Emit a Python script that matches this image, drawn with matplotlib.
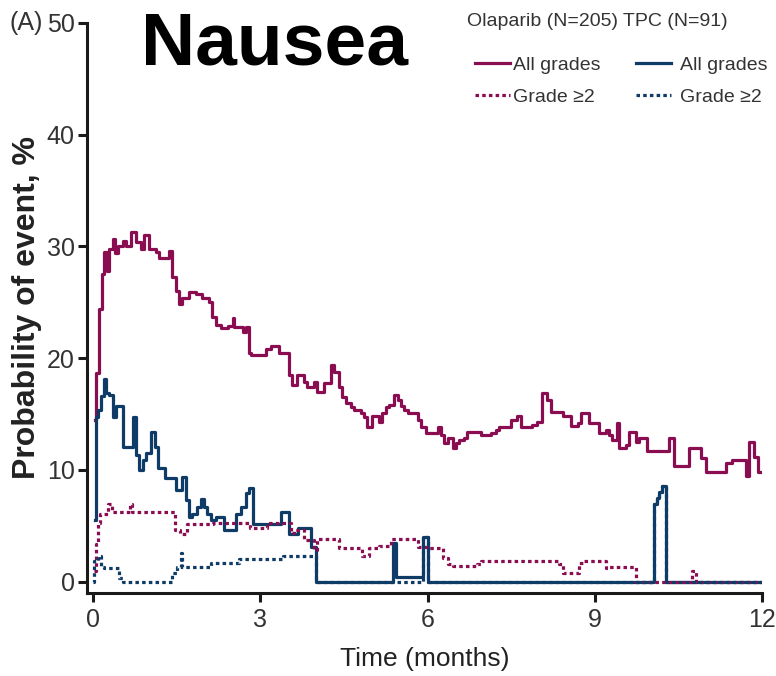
import matplotlib
matplotlib.use('Agg')
import matplotlib.pyplot as plt
from matplotlib.lines import Line2D

# cumulative-incidence style step data, time in months, probability in %
ola_all_t = [0.03, 0.05, 0.095, 0.155, 0.20, 0.25, 0.29, 0.35, 0.39, 0.44, 0.53, 0.59, 0.68, 0.77,
             0.86, 0.91, 1.00, 1.12, 1.18, 1.36, 1.42, 1.48, 1.54, 1.60, 1.72, 1.84, 1.96, 2.08,
             2.14, 2.20, 2.29, 2.41, 2.50, 2.53, 2.68, 2.74, 2.80, 2.83, 3.10, 3.19, 3.34, 3.52,
             3.57, 3.66, 3.78, 3.84, 3.96, 4.02, 4.14, 4.26, 4.32, 4.41, 4.47, 4.53, 4.62, 4.68,
             4.80, 4.86, 4.92, 5.01, 5.13, 5.19, 5.25, 5.31, 5.40, 5.46, 5.52, 5.58, 5.64, 5.82,
             5.88, 5.97, 6.18, 6.24, 6.30, 6.36, 6.45, 6.51, 6.57, 6.65, 6.71, 6.95, 7.13, 7.22,
             7.28, 7.49, 7.61, 7.67, 7.88, 7.97, 8.06, 8.15, 8.21, 8.42, 8.57, 8.69, 8.75, 8.90,
             9.08, 9.20, 9.26, 9.31, 9.39, 9.44, 9.56, 9.61, 9.73, 9.79, 9.94, 10.33, 10.42, 10.69,
             10.90, 10.99, 11.35, 11.47, 11.71, 11.77, 11.86, 11.92, 12.0]
ola_all_p = [14.5, 18.7, 24.4, 27.5, 29.5, 27.8, 29.8, 30.7, 29.4, 30.0, 30.5, 30.0, 31.3, 30.4,
             29.8, 31.0, 29.8, 29.5, 29.0, 29.6, 27.3, 26.0, 24.8, 25.4, 25.9, 25.7, 25.4, 25.0,
             23.7, 23.0, 22.7, 22.9, 23.6, 22.8, 22.3, 22.8, 20.5, 20.3, 20.8, 21.1, 20.5, 18.5,
             17.6, 18.5, 17.9, 17.4, 17.9, 17.0, 17.8, 19.4, 18.8, 17.4, 16.5, 16.0, 15.6, 15.4,
             15.1, 14.7, 13.8, 14.8, 14.3, 15.1, 15.6, 15.8, 16.7, 16.3, 15.7, 15.4, 15.1, 14.5,
             13.8, 13.3, 13.8, 13.1, 12.4, 12.9, 12.0, 12.4, 12.7, 12.9, 13.4, 13.1, 13.3, 13.6,
             13.8, 14.5, 14.8, 13.8, 14.0, 14.3, 16.9, 16.3, 15.2, 14.8, 13.9, 14.2, 15.1, 14.2,
             13.3, 13.6, 13.1, 12.7, 14.2, 12.0, 12.2, 13.4, 12.5, 12.9, 11.7, 12.9, 10.4, 12.0,
             11.1, 9.8, 10.6, 10.9, 9.5, 12.5, 11.2, 9.8, 9.8]

ola_g2_t = [0.02, 0.05, 0.08, 0.12, 0.27, 0.33, 0.66, 0.70, 1.47, 1.56, 1.68, 2.15, 2.82, 3.12,
            3.54, 3.60, 3.78, 3.96, 4.02, 4.41, 4.83, 4.95, 5.13, 5.34, 5.82, 6.03, 6.27, 6.36,
            6.45, 6.89, 6.95, 8.36, 8.42, 8.72, 8.81, 9.20, 9.26, 9.73, 10.75, 10.81, 12.0]
ola_g2_p = [1.0, 3.4, 5.3, 6.1, 7.0, 6.2, 7.0, 6.2, 4.6, 4.3, 5.2, 5.3, 4.8, 5.3,
            4.4, 4.6, 3.7, 2.8, 3.8, 3.0, 2.3, 3.0, 3.2, 3.8, 3.1, 3.0, 2.1, 1.6,
            1.4, 1.6, 1.9, 1.6, 0.8, 1.7, 1.9, 1.2, 1.3, 0.0, 1.0, 0.0, 0.0]

tpc_all_t = [0.03, 0.05, 0.08, 0.14, 0.20, 0.23, 0.29, 0.35, 0.41, 0.53, 0.71, 0.77, 0.83, 0.89,
             0.95, 1.04, 1.10, 1.16, 1.28, 1.48, 1.60, 1.66, 1.72, 1.78, 1.87, 1.93, 1.99, 2.05,
             2.11, 2.20, 2.35, 2.56, 2.65, 2.74, 2.80, 2.86, 3.37, 3.52, 3.67, 3.91, 4.00, 5.37,
             5.43, 5.91, 6.00, 10.06, 10.12, 10.16, 10.21, 10.27, 12.0]
tpc_all_p = [5.5, 14.7, 15.4, 16.6, 18.1, 16.9, 16.7, 14.7, 15.7, 12.1, 14.7, 11.3, 10.0, 10.9,
             11.5, 13.4, 12.1, 10.2, 9.3, 8.2, 9.4, 7.3, 5.8, 6.1, 6.7, 7.4, 6.7, 6.1,
             5.5, 5.8, 4.6, 6.1, 6.7, 7.9, 8.4, 5.2, 6.2, 4.3, 4.8, 3.1, 0.0, 3.5,
             0.4, 4.0, 0.0, 7.0, 7.5, 8.0, 8.6, 0.0, 0.0]

tpc_g2_t = [0.0, 0.02, 0.08, 0.14, 0.20, 0.47, 0.53, 1.42, 1.51, 1.57, 1.60, 2.11, 2.62, 3.40,
            4.00, 5.91, 6.00, 10.06, 10.12, 10.16, 10.21, 10.27, 12.0]
tpc_g2_p = [0.0, 1.9, 2.3, 1.3, 1.2, 0.3, 0.0, 0.8, 1.3, 2.6, 1.3, 1.7, 2.0, 2.3,
            0.0, 4.0, 0.0, 7.0, 7.5, 8.0, 8.6, 0.0, 0.0]

ola_col = '#8a0d52'
tpc_col = '#0e3c66'
plt.rcParams['font.family'] = ['Liberation Sans', 'DejaVu Sans']

fig = plt.figure(figsize=(7.76, 6.76), dpi=100)
ax = fig.add_axes([0.1115, 0.1228, 0.8705, 0.8436])

lw = 2.3
dot = (0, (1.1, 1.0))
ax.step(ola_all_t, ola_all_p, where='post', color=ola_col, lw=lw)
ax.step(tpc_all_t, tpc_all_p, where='post', color=tpc_col, lw=lw)
ax.step(ola_g2_t, ola_g2_p, where='post', color=ola_col, lw=lw, ls=dot)
ax.step(tpc_g2_t, tpc_g2_p, where='post', color=tpc_col, lw=lw, ls=dot)

ax.set_xlim(-0.12, 12)
ax.set_ylim(-1.0, 50)
ax.set_xticks([0, 3, 6, 9, 12])
ax.set_yticks([0, 10, 20, 30, 40, 50])
for s in ['top', 'right']:
    ax.spines[s].set_visible(False)
for s in ['left', 'bottom']:
    ax.spines[s].set_linewidth(2.2)
    ax.spines[s].set_color('#1a1a1a')
ax.tick_params(axis='both', length=6.5, width=2.2, color='#1a1a1a',
               labelsize=18, labelcolor='#333333')
ax.tick_params(axis='y', pad=2)
ax.tick_params(axis='x', pad=4)

ax.set_xlabel('Time (months)', fontsize=19, color='#222222', labelpad=11)
ax.set_ylabel('Probability of event, %', fontsize=23, fontweight='bold', color='#222222')
ax.yaxis.set_label_coords(-0.066, 0.5)

fig.text(0.354, 0.934, 'Nausea', fontsize=54, fontweight='bold',
         ha='center', va='center', color='black')
fig.text(0.012, 0.966, '(A)', fontsize=18, color='#333333', ha='left', va='center')

# two-column key, one column per treatment arm
fig.text(0.602, 0.968, 'Olaparib (N=205)', fontsize=14, color='#333333', ha='left', va='center')
fig.text(0.803, 0.968, 'TPC (N=91)', fontsize=14, color='#333333', ha='left', va='center')

h_ola = [Line2D([], [], color=ola_col, lw=lw), Line2D([], [], color=ola_col, lw=lw, ls=dot)]
h_tpc = [Line2D([], [], color=tpc_col, lw=lw), Line2D([], [], color=tpc_col, lw=lw, ls=dot)]
labels = ['All grades', 'Grade \u22652']
leg1 = ax.legend(h_ola, labels, loc='upper left', bbox_to_anchor=(0.612, 0.917),
                 bbox_transform=fig.transFigure, frameon=False, fontsize=14,
                 handlelength=1.8, handletextpad=0.15, labelspacing=0.75,
                 borderpad=0, borderaxespad=0, labelcolor='#333333')
ax.add_artist(leg1)
ax.legend(h_tpc, labels, loc='upper left', bbox_to_anchor=(0.819, 0.917),
          bbox_transform=fig.transFigure, frameon=False, fontsize=14,
          handlelength=1.8, handletextpad=0.5, labelspacing=0.75,
          borderpad=0, borderaxespad=0, labelcolor='#333333')

plt.savefig('out.png', dpi=100)
plt.close()
